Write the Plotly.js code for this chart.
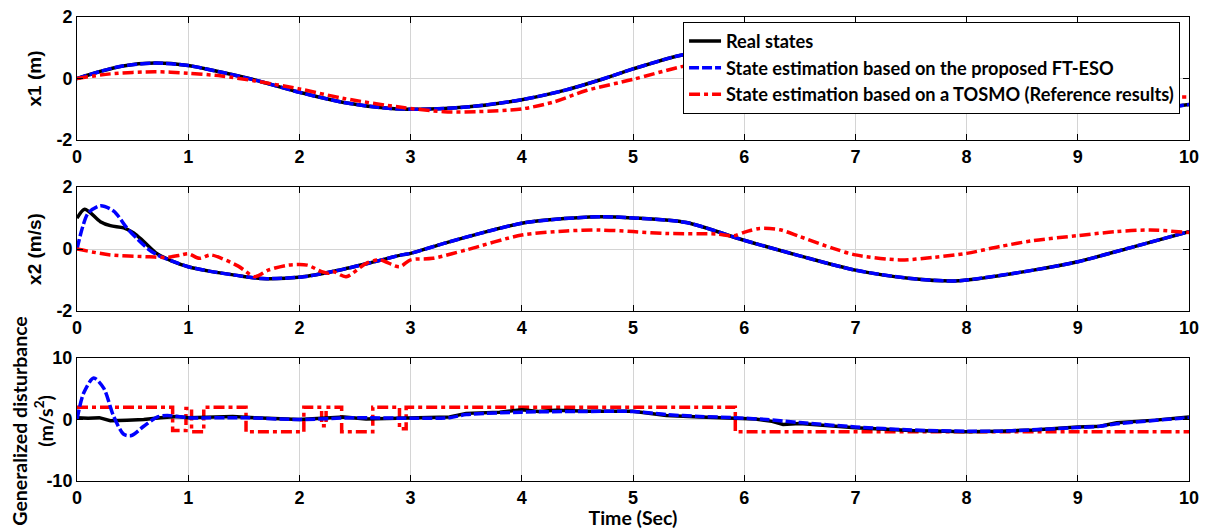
<!DOCTYPE html>
<html>
<head>
<meta charset="utf-8">
<script src="https://cdn.plot.ly/plotly-3.0.1.min.js"></script>
<style>html,body{margin:0;padding:0;background:#fff;}#chart{width:1210px;height:529px;}</style>
</head>
<body>
<div id="chart"></div>
<script>
// ---- Panel 1: x1 (m)
const t_x1 = [0,0.2,0.4,0.7,1.0,1.3,1.6,2.0,2.4,2.8,3.1,3.5,4.0,4.4,4.7,5.0,5.42,5.8,6.2,6.6,7.0,7.5,8.0,8.5,9.0,9.4,9.7,10];
const x1_real = [0,0.22,0.4,0.5,0.42,0.2,-0.05,-0.45,-0.78,-0.97,-1.0,-0.93,-0.69,-0.37,-0.05,0.31,0.75,0.98,1.05,0.98,0.75,0.35,-0.1,-0.55,-0.88,-1.0,-0.97,-0.85];
const x1_eso  = [0,0.22,0.4,0.5,0.42,0.2,-0.05,-0.45,-0.78,-0.97,-1.0,-0.93,-0.69,-0.37,-0.05,0.31,0.75,0.98,1.05,0.98,0.75,0.35,-0.1,-0.55,-0.88,-1.0,-0.97,-0.85];
const t_x1_tosmo = [0,0.3,0.7,1.0,1.3,1.6,2.0,2.4,2.9,3.3,3.6,4.0,4.3,4.58,5.0,5.42,5.8,6.2,6.6,7.0,7.5,8.0,8.5,9.0,9.5,10];
const x1_tosmo = [0,0.15,0.22,0.17,0.08,-0.08,-0.34,-0.65,-0.93,-1.08,-1.08,-0.99,-0.75,-0.39,-0.03,0.37,0.62,0.8,0.85,0.72,0.45,0.15,-0.15,-0.4,-0.58,-0.6];

// ---- Panel 2: x2 (m/s)
const t_x2_real = [0,0.07,0.21,0.3,0.42,0.51,0.6,0.72,0.85,1.0,1.2,1.42,1.66,2.02,2.32,2.62,2.92,3.0,3.3,3.6,4.0,4.25,4.7,5.0,5.48,5.99,6.5,7.0,7.5,7.88,8.0,8.6,9.0,9.5,10];
const x2_real = [0.99,1.28,0.88,0.75,0.68,0.52,0.24,-0.15,-0.38,-0.57,-0.72,-0.84,-0.95,-0.9,-0.71,-0.46,-0.19,-0.14,0.18,0.48,0.83,0.94,1.04,1.0,0.85,0.29,-0.22,-0.68,-0.95,-1.03,-1.0,-0.68,-0.41,0.07,0.56];
const t_x2_eso = [0,0.05,0.1,0.21,0.33,0.45,0.55,0.64,0.72,0.85,1.0,1.2,1.42,1.66,2.02,2.32,2.62,2.92,3.0,3.3,3.6,4.0,4.25,4.7,5.0,5.48,5.99,6.5,7.0,7.5,7.88,8.0,8.6,9.0,9.5,10];
const x2_eso = [0,0.7,1.15,1.39,1.22,0.67,0.3,0.0,-0.19,-0.38,-0.57,-0.72,-0.84,-0.95,-0.9,-0.71,-0.46,-0.19,-0.14,0.18,0.48,0.83,0.94,1.04,1.0,0.85,0.29,-0.22,-0.68,-0.95,-1.03,-1.0,-0.68,-0.41,0.07,0.56];
const t_x2_tosmo = [0,0.3,0.65,0.8,0.93,1.0,1.1,1.2,1.3,1.45,1.6,1.72,1.9,2.07,2.2,2.26,2.3,2.42,2.6,2.72,2.9,3.0,3.2,3.5,4.0,4.4,4.7,5.0,5.3,5.75,5.9,6.02,6.14,6.32,6.5,6.8,7.0,7.4,7.7,8.0,8.3,8.6,9.0,9.35,9.65,10];
const x2_tosmo = [0,-0.19,-0.25,-0.27,-0.2,-0.15,-0.3,-0.19,-0.3,-0.55,-0.89,-0.68,-0.52,-0.52,-0.73,-0.78,-0.72,-0.89,-0.46,-0.35,-0.57,-0.35,-0.3,-0.03,0.45,0.58,0.61,0.56,0.5,0.48,0.42,0.56,0.66,0.62,0.4,0.02,-0.19,-0.35,-0.27,-0.14,0.08,0.27,0.43,0.56,0.61,0.53];

// ---- Panel 3: generalized disturbance (m/s^2)
const t_d_real = [0,0.1,0.2,0.3,0.45,0.6,0.75,0.9,1.0,1.2,1.4,1.6,1.8,2.0,2.2,2.4,2.6,2.8,3.0,3.2,3.35,3.5,3.8,4.0,4.15,4.3,4.6,5.0,5.3,5.6,5.9,6.1,6.25,6.35,6.5,7.0,7.5,8.0,8.3,8.6,9.0,9.2,9.35,9.7,10];
const d_real = [0.3,0.2,0.3,-0.2,-0.1,0.0,0.3,0.5,0.3,0.4,0.5,0.3,0.1,0.0,0.2,0.4,0.1,0.2,0.3,0.3,0.4,1.0,1.2,1.6,1.3,1.5,1.35,1.35,0.65,0.43,0.27,0.1,-0.3,-0.8,-0.65,-1.35,-1.8,-2.0,-1.9,-1.7,-1.2,-1.1,-0.54,-0.1,0.43];
const t_d_eso = [0,0.06,0.15,0.24,0.33,0.42,0.49,0.6,0.72,0.81,1.0,1.5,2.0,2.5,3.0,3.35,3.5,4.0,4.5,5.0,5.3,5.6,5.9,6.2,6.5,7.0,7.5,8.0,8.3,9.0,9.2,9.35,10];
const d_eso = [0,4.3,6.75,5.1,0.5,-2.4,-2.6,-1.1,0.4,0.65,0.3,0.3,0.0,0.3,0.2,0.3,0.8,1.2,1.3,1.3,0.8,0.5,0.3,0.0,-0.5,-1.2,-1.7,-1.9,-1.9,-1.3,-1.1,-0.7,0.3];
const t_d_tosmo = [0,0.86,0.98,1.03,1.14,1.52,2.04,2.2,2.24,2.38,2.66,2.9,2.96,5.92,10];
const d_tosmo = [2,-1.8,1.8,-2,2,-2,2,-1,2,-2,2,-1.5,2,-2,-2];

const names = ['Real states','State estimation based on the proposed FT-ESO','State estimation based on a TOSMO (Reference results)'];
const tickX = [0,1,2,3,4,5,6,7,8,9,10];

const styleReal = {color:'#000000', width:3.5, dash:'solid'};
const styleEso = {color:'#0000ff', width:3.5, dash:'10px,3px'};
const styleTosmo = {color:'#ff0000', width:3.5, dash:'11px,4px,4px,4px'};

function tr(x, y, name, line, ax, show, shape) {
  const l = Object.assign({shape: shape||'spline'}, line);
  if (l.shape === 'spline') l.smoothing = 0.8;
  return {x:x, y:y, name:name, type:'scatter', mode:'lines', line:l,
          xaxis:'x'+(ax===1?'':ax), yaxis:'y'+(ax===1?'':ax), showlegend:show, legendgroup:name, hoverinfo:'skip'};
}

const data = [
  tr(t_x1, x1_real, names[0], styleReal, 1, true),
  tr(t_x1, x1_eso, names[1], styleEso, 1, true),
  tr(t_x1_tosmo, x1_tosmo, names[2], styleTosmo, 1, true),
  tr(t_x2_real, x2_real, names[0], styleReal, 2, false),
  tr(t_x2_eso, x2_eso, names[1], styleEso, 2, false),
  tr(t_x2_tosmo, x2_tosmo, names[2], styleTosmo, 2, false),
  tr(t_d_tosmo, d_tosmo, names[2], styleTosmo, 3, false, 'hv'),
  tr(t_d_real, d_real, names[0], styleReal, 3, false, 'linear'),
  tr(t_d_eso, d_eso, names[1], styleEso, 3, false)
];

const tickFont = {family:'Liberation Sans, Arial, sans-serif', size:18, color:'#000', weight:'bold'};
function xax(anchor) {
  return {range:[0,10], tickvals:tickX, ticktext:tickX.map(String), ticks:'inside', ticklen:6, tickcolor:'#000',
          showline:true, linecolor:'#000', linewidth:1, mirror:'ticks', showgrid:true, gridcolor:'#d4d4d4', gridwidth:1,
          zeroline:false, tickfont:tickFont, anchor:anchor, fixedrange:true};
}
function yax(anchor, domain, lim, title, tfont, standoff) {
  const a = {range:[-lim,lim], tickvals:[-lim,0,lim], ticktext:[String(-lim),'0',String(lim)], ticks:'inside', ticklen:6, tickcolor:'#000',
          showline:true, linecolor:'#000', linewidth:1, mirror:'ticks', showgrid:true, gridcolor:'#d4d4d4', gridwidth:1,
          zeroline:false, tickfont:tickFont, anchor:anchor, domain:domain, fixedrange:true};
  if (title) a.title = {text:title, font:tfont, standoff:standoff};
  return a;
}

const titleFontA = {family:'Liberation Sans, Arial, sans-serif', size:19, color:'#000', weight:'bold'};
const titleFontB = {family:'Lato, sans-serif', size:19.5, color:'#000', weight:'bold'};
const titleFontC = {family:'Lato, sans-serif', size:19.5, color:'#000', weight:'bold'};
const legendFont = {family:'Lato, sans-serif', size:18.2, color:'#000', weight:'bold'};

const xa3 = xax('y3');
xa3.title = {text:'Time (Sec)', font:titleFontB, standoff:0};

const layout = {
  width:1210, height:529,
  margin:{l:77, r:21, t:17, b:48},
  paper_bgcolor:'#ffffff', plot_bgcolor:'#ffffff',
  showlegend:true,
  legend:{x:0.545, xanchor:'left', y:0.99, yanchor:'top', bgcolor:'#ffffff', bordercolor:'#000', borderwidth:1,
          font:legendFont, tracegroupgap:0, itemwidth:32},
  xaxis: xax('y'),
  xaxis2: xax('y2'),
  xaxis3: xa3,
  yaxis: yax('x', [0.735,1], 2, 'x1 (m)', titleFontA, 9),
  yaxis2: yax('x2', [0.366,0.634], 2, 'x2 (m/s)', titleFontA, 9),
  yaxis3: yax('x3', [0,0.265], 10, null),
  annotations:[{text:'Generalized disturbance<br>(m/s<sup>2</sup>)', xref:'paper', yref:'paper',
                x:-0.0405, y:0.13, xanchor:'center', yanchor:'middle', textangle:-90, showarrow:false,
                font:titleFontC, align:'center'}]
};

Plotly.newPlot('chart', data, layout, {displayModeBar:false, staticPlot:true});
</script>
</body>
</html>
